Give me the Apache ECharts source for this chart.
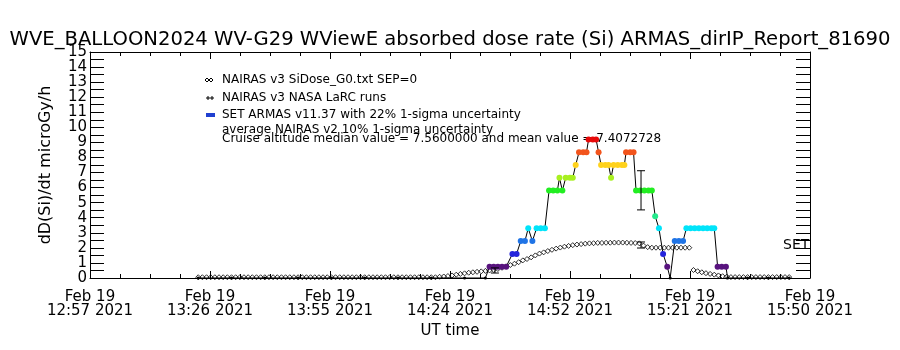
<!DOCTYPE html>
<html>
<head>
<meta charset="utf-8">
<script src="https://cdn.jsdelivr.net/npm/echarts@6/dist/echarts.min.js"></script>
<style>
  html, body { margin: 0; background: #fff; }
  #chart { width: 900px; height: 350px; }
</style>
</head>
<body>
<div id="chart"></div>
<script>
// x values are minutes after 12:57 UT, Feb 19 2021
var tickLabels = ['Feb 19\n12:57 2021', 'Feb 19\n13:26 2021', 'Feb 19\n13:55 2021', 'Feb 19\n14:24 2021',
  'Feb 19\n14:52 2021', 'Feb 19\n15:21 2021', 'Feb 19\n15:50 2021']

// SET ARMAS dose rate
var armasTime = [26, 34, 42, 50, 58, 66, 74, 82, 90, 95,
  96, 97, 98, 99, 100, 101.5, 102.5, 103.5, 104.5, 105.3, 106.3,
  107.3, 108.3, 109.3, 110.3, 111.3, 112.3, 112.8, 113.5, 114.3, 115.3, 116,
  116.7, 117.5, 118.5, 119.3, 119.8, 120.8, 121.6, 122.2, 122.8, 123.8, 124.6,
  125.2, 125.8, 126.8, 127.8, 128.4, 128.8, 129.8, 130.6,
  131.2, 132.2, 133.2, 134.2, 135, 135.8, 136.7, 137.7, 138.7, 139.4,
  140.5, 141.5, 142.5, 143.3, 144.3, 145.3, 146.3, 147.3, 148.3, 149.3, 150,
  150.8, 151.8, 152.8, 153.2, 158, 163, 168]
var armasDose = [0, 0, 0, 0, 0, 0, 0, 0, 0, 0,
  0.75, 0.75, 0.75, 0.75, 0.75, 1.6, 1.6, 2.45, 2.45, 3.3, 2.45,
  3.3, 3.3, 3.3, 5.8, 5.8, 5.8, 6.65, 5.8, 6.65, 6.65, 6.65,
  7.5, 8.35, 8.35, 8.35, 9.2, 9.2, 9.2, 8.35, 7.5, 7.5, 7.5,
  6.65, 7.5, 7.5, 7.5, 7.5, 8.35, 8.35, 8.35,
  5.8, 5.8, 5.8, 5.8, 5.8, 4.1, 3.3, 1.6, 0.75, 0,
  2.45, 2.45, 2.45, 3.3, 3.3, 3.3, 3.3, 3.3, 3.3, 3.3, 3.3,
  0.75, 0.75, 0.75, 0, 0, 0, 0]

// NAIRAS v3 model, one value per minute starting at nairasStart
var nairasStart = 26
var nairasDose = [
  0.05, 0.05, 0.05, 0.05, 0.05, 0.05, 0.05, 0.05, 0.05, 0.05,
  0.05, 0.05, 0.05, 0.05, 0.05, 0.05, 0.05, 0.05, 0.05, 0.05,
  0.05, 0.05, 0.05, 0.05, 0.05, 0.05, 0.05, 0.05, 0.05, 0.05,
  0.05, 0.05, 0.05, 0.05, 0.05, 0.05, 0.05, 0.05, 0.05, 0.05,
  0.05, 0.05, 0.05, 0.05, 0.05, 0.05, 0.05, 0.05, 0.05, 0.05,
  0.05, 0.05, 0.05, 0.05, 0.05, 0.05, 0.05, 0.05,
  0.08, 0.1, 0.13, 0.17, 0.22, 0.27, 0.31, 0.35, 0.38, 0.41,
  0.44, 0.47, 0.5, 0.53, 0.6, 0.68, 0.77, 0.86, 0.95, 1.05,
  1.17, 1.26, 1.37, 1.5, 1.62, 1.7, 1.79, 1.87, 1.95, 2.02,
  2.08, 2.13, 2.18, 2.22, 2.25, 2.28, 2.3, 2.31, 2.33, 2.33,
  2.34, 2.34, 2.35, 2.35, 2.35, 2.34, 2.33, 2.32, 2.3, 2.15, 2.05,
  2.01, 2.01, 2.01, 2.01, 2.01, 2.01, 2.01, 2.01, 2.01, 2.01,
  0.53, 0.45, 0.38, 0.32, 0.27, 0.22, 0.17, 0.12, 0.09,
  0.06, 0.06, 0.06, 0.06, 0.06, 0.06, 0.06, 0.06, 0.06, 0.06,
  0.06, 0.06, 0.06, 0.06, 0.06]

// 1-sigma uncertainty bars
var errTime = [97.3, 132.4, 132.4]
var errMid = [0.5, 2.19, 5.82]
var errHalf = [0.17, 0.2, 1.3]

var xStep = 173 / 6
var fontName = 'DejaVu Sans'

// rainbow colour table by dose level
var doseLevels = [0.3, 1.2, 2.0, 2.9, 3.7, 5, 6.2, 7.1, 7.9, 8.8]
var doseColors = ['#000000', '#58137e', '#2424dc', '#1f74e6', '#00e4fa', '#26ea8c',
  '#22ee22', '#a8f020', '#ffd21c', '#f2541c', '#e80a0a']
function doseColor(v) {
  var i = 0
  while (i < doseLevels.length && v >= doseLevels[i]) i++
  return doseColors[i]
}

var armasData = armasTime.map(function (t, i) {
  var v = armasDose[i]
  return { value: [t, v], symbolSize: v > 0 ? 6 : 3, itemStyle: { color: doseColor(v) } }
})
var nairasData = nairasDose.map(function (v, i) { return [nairasStart + i, v] })
var errData = errTime.map(function (t, i) { return [t, errMid[i], errHalf[i]] })

function xAxisCfg(pos) {
  return {
    type: 'value', position: pos, min: 0, max: xStep * 6, interval: xStep,
    axisLine: { show: true, onZero: false, lineStyle: { color: '#000', width: 1 } },
    axisTick: { show: true, inside: true, length: 7, lineStyle: { color: '#000' } },
    minorTick: { show: true, splitNumber: 4, length: 4, lineStyle: { color: '#000' } },
    splitLine: { show: false },
    axisLabel: {
      show: pos === 'bottom', color: '#000', fontFamily: fontName, fontSize: 15, lineHeight: 14,
      margin: 12,
      formatter: function (v) { return tickLabels[Math.round(v / xStep)] || '' }
    }
  }
}
function yAxisCfg(pos) {
  return {
    type: 'value', position: pos, min: 0, max: 15, interval: 0.5,
    axisLine: { show: true, onZero: false, lineStyle: { color: '#000', width: 1 } },
    axisTick: { show: true, inside: true, length: 14, lineStyle: { color: '#000' } },
    splitLine: { show: false },
    axisLabel: {
      show: pos === 'left', color: '#000', fontFamily: fontName, fontSize: 15, margin: 3,
      formatter: function (v) { return Number.isInteger(v) ? String(v) : '' }
    }
  }
}

var xBottom = xAxisCfg('bottom')
xBottom.name = 'UT time'
xBottom.nameLocation = 'middle'
xBottom.nameGap = 46
xBottom.nameTextStyle = { color: '#000', fontFamily: fontName, fontSize: 15 }
var yLeft = yAxisCfg('left')
yLeft.name = 'dD(Si)/dt microGy/h'
yLeft.nameLocation = 'middle'
yLeft.nameGap = 36
yLeft.nameTextStyle = { color: '#000', fontFamily: fontName, fontSize: 16 }

function legendText(y, s) {
  return { type: 'text', x: 222, y: y, style: { text: s, fill: '#000', font: '12px "DejaVu Sans"', verticalAlign: 'middle' } }
}
function plusMark(x, y) {
  return { type: 'group', children: [
    { type: 'line', shape: { x1: x - 2, y1: y, x2: x + 2, y2: y }, style: { stroke: '#000' } },
    { type: 'line', shape: { x1: x, y1: y - 2, x2: x, y2: y + 2 }, style: { stroke: '#000' } }
  ] }
}

var chart = echarts.init(document.getElementById('chart'))
chart.setOption({
  animation: false,
  backgroundColor: '#fff',
  title: {
    text: 'WVE_BALLOON2024 WV-G29 WViewE absorbed dose rate (Si) ARMAS_dirIP_Report_81690',
    left: 'center', top: 25,
    textStyle: { color: '#000', fontFamily: fontName, fontSize: 19.6, fontWeight: 'normal' }
  },
  grid: { left: 90, right: 90, top: 52, bottom: 72 },
  xAxis: [xBottom, xAxisCfg('top')],
  yAxis: [yLeft, yAxisCfg('right')],
  graphic: [
    { type: 'polygon', shape: { points: [[205, 80], [207, 78], [209, 80], [207, 82]] }, style: { fill: 'none', stroke: '#000' } },
    { type: 'polygon', shape: { points: [[209, 80], [211, 78], [213, 80], [211, 82]] }, style: { fill: 'none', stroke: '#000' } },
    legendText(80, 'NAIRAS v3 SiDose_G0.txt SEP=0'),
    plusMark(208, 98),
    plusMark(212, 98),
    legendText(98, 'NAIRAS v3 NASA LaRC runs'),
    { type: 'rect', shape: { x: 206, y: 113, width: 9, height: 4 }, style: { fill: '#2040d0' } },
    legendText(115, 'SET ARMAS v11.37 with 22% 1-sigma uncertainty'),
    legendText(130, 'average NAIRAS v2 10% 1-sigma uncertainty'),
    legendText(139, 'Cruise altitude median value = 7.5600000 and mean value = 7.4072728'),
    { type: 'text', x: 783, y: 245, style: { text: 'SET', fill: '#000', font: '14px "DejaVu Sans"', verticalAlign: 'middle' } }
  ],
  series: [
    {
      name: 'NAIRAS v3', type: 'scatter', symbol: 'diamond', symbolSize: [5, 5],
      data: nairasData, silent: true, z: 2,
      itemStyle: { color: 'rgba(0,0,0,0)', borderColor: '#000', borderWidth: 1 }
    },
    {
      name: 'SET ARMAS', type: 'line', symbol: 'circle', data: armasData, z: 3,
      lineStyle: { color: '#000', width: 1 }, silent: true
    },
    {
      name: 'uncertainty', type: 'custom', z: 4, data: errData, silent: true,
      renderItem: function (params, api) {
        var t = api.value(0), m = api.value(1), h = api.value(2)
        var lo = api.coord([t, m - h]), hi = api.coord([t, m + h])
        var st = { stroke: '#000', lineWidth: 1 }
        return {
          type: 'group', children: [
            { type: 'line', shape: { x1: lo[0], y1: lo[1], x2: hi[0], y2: hi[1] }, style: st },
            { type: 'line', shape: { x1: lo[0] - 4, y1: lo[1], x2: lo[0] + 4, y2: lo[1] }, style: st },
            { type: 'line', shape: { x1: hi[0] - 4, y1: hi[1], x2: hi[0] + 4, y2: hi[1] }, style: st }
          ]
        }
      }
    }
  ]
})
</script>
</body>
</html>
